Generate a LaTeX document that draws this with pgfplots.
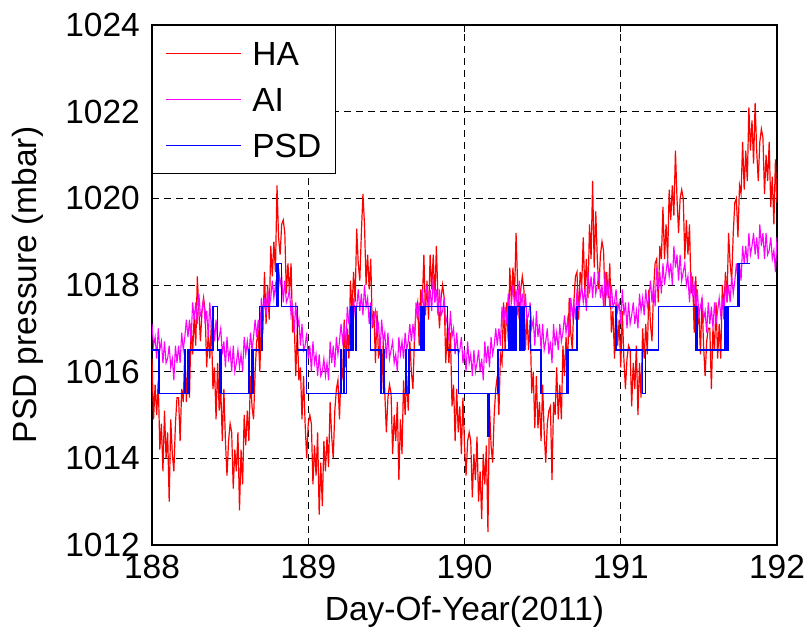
\documentclass[border=0pt]{standalone}
\usepackage{fontspec}
\setmainfont{Liberation Sans}
\usepackage{pgfplots}
\usepackage{pgfplotstable}
\pgfplotsset{compat=1.18}
\definecolor{mred}{RGB}{255,0,0}
\definecolor{mmag}{RGB}{255,0,255}
\definecolor{mblue}{RGB}{0,0,255}
\begin{document}
\pgfplotstableread{
x ha ai
188.00 1016.3 1017.1
188.01 1014.9 1016.6
188.02 1015.7 1016.8
188.03 1015.0 1016.3
188.04 1015.8 1017.0
188.05 1014.2 1016.5
188.06 1014.8 1016.7
188.07 1013.7 1016.2
188.08 1015.1 1016.7
188.09 1014.0 1016.2
188.10 1014.6 1016.3
188.11 1013.0 1016.6
188.12 1014.9 1016.1
188.13 1014.1 1016.3
188.14 1013.7 1015.8
188.15 1014.8 1016.6
188.16 1015.4 1016.2
188.17 1015.4 1016.6
188.18 1014.4 1016.2
188.19 1015.6 1016.9
188.20 1015.3 1016.5
188.21 1016.5 1016.8
188.22 1015.3 1017.2
188.23 1016.2 1016.8
188.24 1015.4 1017.2
188.25 1017.1 1016.7
188.26 1016.4 1017.6
188.27 1017.3 1017.2
188.28 1016.6 1017.6
188.29 1018.2 1017.1
188.30 1017.4 1017.8
188.31 1016.7 1017.3
188.32 1017.4 1017.4
188.33 1017.7 1017.7
188.34 1017.4 1017.1
188.35 1016.1 1017.4
188.36 1016.9 1016.8
188.37 1016.3 1017.6
188.38 1017.1 1017.0
188.39 1015.6 1017.3
188.40 1016.1 1016.7
188.41 1014.9 1017.2
188.42 1016.2 1016.7
188.43 1015.1 1016.8
188.44 1015.6 1017.0
188.45 1014.4 1016.4
188.46 1015.6 1016.7
188.47 1014.4 1016.1
188.48 1013.6 1016.8
188.49 1014.4 1016.3
188.50 1014.8 1016.5
188.51 1014.6 1016.0
188.52 1013.3 1016.6
188.53 1014.2 1016.0
188.54 1013.7 1016.2
188.55 1014.6 1016.5
188.56 1012.8 1016.1
188.57 1014.2 1016.4
188.58 1013.4 1016.0
188.59 1015.0 1016.8
188.60 1014.3 1016.4
188.61 1015.1 1016.7
188.62 1014.4 1016.3
188.63 1015.9 1016.9
188.64 1015.2 1016.5
188.65 1014.9 1016.8
188.66 1016.0 1017.2
188.67 1016.7 1016.8
188.68 1016.9 1017.2
188.69 1016.0 1016.8
188.70 1017.2 1017.7
188.71 1017.0 1017.3
188.72 1018.3 1017.7
188.73 1017.1 1017.3
188.74 1018.0 1017.9
188.75 1017.2 1017.5
188.76 1018.9 1017.7
188.77 1018.2 1018.1
188.78 1019.0 1017.7
188.79 1018.3 1018.0
188.80 1020.3 1017.6
188.81 1019.1 1018.4
188.82 1018.7 1018.0
188.83 1019.4 1018.2
188.84 1019.5 1017.6
188.85 1019.2 1018.1
188.86 1017.8 1017.6
188.87 1018.5 1017.7
188.88 1017.8 1017.9
188.89 1018.5 1017.3
188.90 1016.9 1017.5
188.91 1017.2 1016.9
188.92 1015.9 1017.6
188.93 1017.0 1017.0
188.94 1015.8 1017.2
188.95 1016.1 1016.6
188.96 1014.9 1017.1
188.97 1015.9 1016.5
188.98 1014.8 1016.6
188.99 1014.0 1016.9
189.00 1014.8 1016.3
189.01 1015.0 1016.6
189.02 1014.8 1016.0
189.03 1013.4 1016.7
189.04 1014.3 1016.2
189.05 1013.6 1016.4
189.06 1014.6 1015.9
189.07 1012.7 1016.4
189.08 1013.9 1015.9
189.09 1012.9 1016.0
189.10 1014.4 1016.3
189.11 1013.7 1015.9
189.12 1014.5 1016.2
189.13 1013.8 1015.8
189.14 1015.3 1016.7
189.15 1014.5 1016.2
189.16 1014.0 1016.6
189.17 1015.1 1016.1
189.18 1015.6 1016.8
189.19 1015.8 1016.4
189.20 1014.9 1016.7
189.21 1016.1 1017.1
189.22 1015.9 1016.7
189.23 1017.2 1017.0
189.24 1016.1 1016.6
189.25 1017.0 1017.5
189.26 1016.3 1017.1
189.27 1018.1 1017.5
189.28 1017.4 1017.1
189.29 1018.3 1017.7
189.30 1017.6 1017.3
189.31 1019.3 1017.5
189.32 1018.5 1017.9
189.33 1018.1 1017.4
189.34 1019.2 1017.8
189.35 1020.1 1017.3
189.36 1019.4 1018.0
189.37 1018.0 1017.5
189.38 1018.7 1017.7
189.39 1017.9 1017.1
189.40 1018.6 1017.6
189.41 1017.0 1017.1
189.42 1017.4 1017.2
189.43 1016.2 1017.4
189.44 1017.4 1016.9
189.45 1016.3 1017.1
189.46 1016.7 1016.5
189.47 1015.6 1017.2
189.48 1016.7 1016.7
189.49 1015.5 1016.9
189.50 1014.6 1016.3
189.51 1015.4 1016.9
189.52 1015.7 1016.3
189.53 1015.5 1016.5
189.54 1014.1 1016.7
189.55 1015.0 1016.2
189.56 1014.4 1016.4
189.57 1015.3 1016.0
189.58 1013.5 1016.8
189.59 1014.9 1016.4
189.60 1014.1 1016.7
189.61 1015.8 1016.3
189.62 1015.0 1016.9
189.63 1015.9 1016.5
189.64 1015.1 1016.7
189.65 1016.7 1017.1
189.66 1016.0 1016.7
189.67 1015.6 1017.1
189.68 1016.8 1016.7
189.69 1017.4 1017.6
189.70 1017.6 1017.2
189.71 1016.6 1017.6
189.72 1017.9 1017.2
189.73 1017.6 1017.9
189.74 1018.7 1017.4
189.75 1017.3 1017.7
189.76 1018.1 1018.0
189.77 1017.2 1017.5
189.78 1018.7 1017.9
189.79 1017.9 1017.4
189.80 1018.7 1018.2
189.81 1017.6 1017.6
189.82 1018.9 1017.9
189.83 1017.7 1017.3
189.84 1017.0 1017.9
189.85 1017.7 1017.3
189.86 1018.0 1017.4
189.87 1017.7 1017.7
189.88 1016.2 1017.1
189.89 1017.0 1017.3
189.90 1016.2 1016.7
189.91 1016.9 1017.4
189.92 1015.2 1016.8
189.93 1015.7 1017.0
189.94 1014.4 1016.4
189.95 1015.6 1016.9
189.96 1014.6 1016.4
189.97 1015.2 1016.5
189.98 1014.1 1016.8
189.99 1015.4 1016.2
190.00 1014.3 1016.5
190.01 1013.6 1016.0
190.02 1014.4 1016.7
190.03 1014.6 1016.2
190.04 1014.4 1016.4
190.05 1013.1 1015.9
190.06 1014.1 1016.5
190.07 1013.5 1016.0
190.08 1014.5 1016.2
190.09 1013.0 1016.5
190.10 1013.7 1016.0
190.11 1012.6 1016.3
190.12 1014.1 1015.8
190.13 1013.4 1016.7
190.14 1014.3 1016.2
190.15 1012.3 1016.6
190.16 1015.2 1016.1
190.17 1014.3 1016.8
190.18 1013.9 1016.4
190.19 1015.0 1016.6
190.20 1015.6 1017.0
190.21 1015.9 1016.6
190.22 1015.0 1017.0
190.23 1016.4 1016.6
190.24 1016.2 1017.5
190.25 1017.6 1017.1
190.26 1016.5 1017.5
190.27 1017.6 1017.1
190.28 1016.7 1017.8
190.29 1018.4 1017.3
190.30 1017.6 1017.6
190.31 1018.4 1018.0
190.32 1017.7 1017.5
190.33 1019.2 1017.9
190.34 1018.0 1017.3
190.35 1017.2 1018.1
190.36 1017.9 1017.5
190.37 1018.2 1017.8
190.38 1017.9 1017.2
190.39 1016.5 1017.8
190.40 1017.3 1017.2
190.41 1016.5 1017.3
190.42 1017.2 1017.6
190.43 1015.5 1017.0
190.44 1016.0 1017.2
190.45 1014.7 1016.6
190.46 1015.9 1017.4
190.47 1014.7 1016.8
190.48 1015.3 1017.1
190.49 1014.4 1016.5
190.50 1015.7 1017.1
190.51 1014.6 1016.5
190.52 1013.9 1016.7
190.53 1014.8 1017.0
190.54 1015.1 1016.4
190.55 1015.2 1016.7
190.56 1013.5 1016.2
190.57 1015.3 1017.1
190.58 1015.0 1016.6
190.59 1016.1 1016.9
190.60 1014.9 1016.5
190.61 1015.7 1017.1
190.62 1014.9 1016.7
190.63 1016.6 1016.9
190.64 1015.9 1017.3
190.65 1016.8 1016.9
190.66 1016.1 1017.2
190.67 1017.7 1016.8
190.68 1016.9 1017.7
190.69 1016.5 1017.3
190.70 1017.6 1017.6
190.71 1018.2 1017.2
190.72 1018.3 1017.9
190.73 1017.2 1017.4
190.74 1018.3 1017.7
190.75 1018.0 1018.0
190.76 1019.1 1017.6
190.77 1017.8 1017.9
190.78 1018.6 1017.4
190.79 1017.7 1018.3
190.80 1019.4 1017.8
190.81 1018.6 1018.2
190.82 1020.4 1017.7
190.83 1018.4 1018.3
190.84 1019.7 1017.8
190.85 1018.6 1018.0
190.86 1017.9 1018.3
190.87 1018.7 1017.7
190.88 1019.0 1018.0
190.89 1018.8 1017.5
190.90 1017.5 1018.3
190.91 1018.3 1017.8
190.92 1017.7 1018.0
190.93 1018.5 1017.5
190.94 1016.9 1018.0
190.95 1017.4 1017.5
190.96 1016.3 1017.6
190.97 1017.6 1017.9
190.98 1016.6 1017.4
190.99 1017.2 1017.6
191.00 1016.1 1017.1
191.01 1017.4 1017.9
191.02 1016.3 1017.3
191.03 1015.6 1017.6
191.04 1016.3 1017.0
191.05 1016.6 1017.6
191.06 1016.5 1017.1
191.07 1015.2 1017.3
191.08 1016.2 1017.6
191.09 1015.6 1017.1
191.10 1016.6 1017.4
191.11 1015.0 1017.0
191.12 1016.2 1017.8
191.13 1015.4 1017.4
191.14 1017.0 1017.7
191.15 1016.3 1017.3
191.16 1017.1 1017.9
191.17 1016.4 1017.5
191.18 1017.9 1017.7
191.19 1017.1 1018.1
191.20 1016.7 1017.6
191.21 1017.9 1018.0
191.22 1018.5 1017.5
191.23 1018.6 1018.4
191.24 1017.6 1017.9
191.25 1018.9 1018.3
191.26 1018.6 1017.8
191.27 1019.8 1018.5
191.28 1018.6 1018.0
191.29 1019.4 1018.3
191.30 1018.6 1018.6
191.31 1020.2 1018.2
191.32 1019.5 1018.5
191.33 1020.3 1018.0
191.34 1019.6 1018.9
191.35 1021.1 1018.4
191.36 1020.0 1018.7
191.37 1019.2 1018.1
191.38 1020.0 1018.7
191.39 1020.2 1018.1
191.40 1020.0 1018.3
191.41 1018.6 1018.5
191.42 1019.5 1018.0
191.43 1018.7 1018.2
191.44 1019.4 1017.6
191.45 1017.8 1018.3
191.46 1018.2 1017.8
191.47 1016.9 1018.0
191.48 1018.2 1017.4
191.49 1017.0 1017.9
191.50 1017.4 1017.3
191.51 1016.4 1017.5
191.52 1017.7 1017.7
191.53 1016.6 1017.2
191.54 1015.9 1017.4
191.55 1016.7 1016.9
191.56 1017.0 1017.6
191.57 1017.0 1017.1
191.58 1015.6 1017.5
191.59 1017.0 1017.0
191.60 1016.5 1017.6
191.61 1017.6 1017.1
191.62 1016.3 1017.4
191.63 1017.1 1017.7
191.64 1016.3 1017.3
191.65 1018.0 1017.6
191.66 1017.4 1017.2
191.67 1018.3 1018.1
191.68 1017.6 1017.6
191.69 1019.2 1018.0
191.70 1018.5 1017.6
191.71 1018.1 1018.2
191.72 1019.2 1017.8
191.73 1019.9 1018.1
191.74 1020.0 1018.5
191.75 1019.1 1018.1
191.76 1020.3 1018.5
191.77 1020.1 1018.1
191.78 1021.3 1018.9
191.79 1020.2 1018.5
191.80 1021.1 1018.9
191.81 1020.4 1018.5
191.82 1022.1 1019.2
191.83 1021.1 1018.7
191.84 1021.8 1018.9
191.85 1020.8 1019.2
191.86 1022.2 1018.7
191.87 1021.1 1019.1
191.88 1020.4 1018.6
191.89 1021.3 1019.4
191.90 1021.6 1018.9
191.91 1021.4 1019.2
191.92 1020.1 1018.6
191.93 1021.0 1019.2
191.94 1020.4 1018.7
191.95 1021.3 1018.8
191.96 1019.8 1019.1
191.97 1020.5 1018.6
191.98 1019.4 1018.8
191.99 1020.9 1018.3
192.00 1019.9 1019.1
}\tabledata
\pgfplotstableread{
x psd
188.000 1016.5
188.040 1015.5
188.045 1016.5
188.050 1015.5
188.210 1016.5
188.215 1015.5
188.225 1016.5
188.230 1015.5
188.240 1016.5
188.390 1017.5
188.420 1016.5
188.435 1015.5
188.440 1016.5
188.445 1015.5
188.620 1016.5
188.625 1015.5
188.635 1016.5
188.640 1015.5
188.650 1016.5
188.690 1017.5
188.700 1016.5
188.705 1017.5
188.800 1018.5
188.805 1017.5
188.810 1018.5
188.830 1017.5
188.930 1016.5
188.990 1015.5
189.210 1016.5
189.215 1015.5
189.225 1016.5
189.230 1015.5
189.245 1016.5
189.270 1017.5
189.275 1016.5
189.280 1017.5
189.285 1016.5
189.290 1017.5
189.300 1016.5
189.305 1017.5
189.400 1016.5
189.460 1015.5
189.465 1016.5
189.470 1015.5
189.480 1016.5
189.485 1015.5
189.620 1016.5
189.625 1015.5
189.640 1016.5
189.645 1015.5
189.650 1016.5
189.720 1017.5
189.725 1016.5
189.735 1017.5
189.740 1016.5
189.745 1017.5
189.890 1016.5
189.960 1015.5
190.150 1014.5
190.160 1015.5
190.210 1016.5
190.215 1015.5
190.220 1016.5
190.280 1017.5
190.290 1016.5
190.295 1017.5
190.300 1016.5
190.310 1017.5
190.315 1016.5
190.320 1017.5
190.330 1016.5
190.335 1017.5
190.350 1016.5
190.355 1017.5
190.365 1016.5
190.370 1017.5
190.380 1016.5
190.385 1017.5
190.420 1016.5
190.490 1015.5
190.655 1016.5
190.660 1015.5
190.665 1016.5
190.720 1017.5
190.970 1016.5
191.140 1015.5
191.160 1016.5
191.240 1017.5
191.480 1016.5
191.485 1017.5
191.490 1016.5
191.665 1017.5
191.670 1016.5
191.680 1017.5
191.685 1016.5
191.690 1017.5
191.750 1018.5
191.755 1017.5
191.760 1018.5
191.830 1018.5
}\psddata
\begin{tikzpicture}
\path[use as bounding box] (-152bp,-88bp) rectangle (659bp,545bp);
\begin{axis}[
  scale only axis,
  width=625bp, height=520bp,
  xmin=188, xmax=192, ymin=1012, ymax=1024,
  xtick={188,189,190,191,192},
  ytick={1012,1014,1016,1018,1020,1022,1024},
  /pgf/number format/assume math mode=true,
  /pgf/number format/1000 sep={},
  font=\fontsize{33.5bp}{40bp}\selectfont,
  tick align=inside,
  major tick length=7bp,
  major tick style={black, line width=0.8bp},
  axis line style={black, line width=1.2bp},
  grid=major,
  major grid style={black, line width=0.7bp, dash pattern=on 7bp off 5bp},
  xticklabel style={anchor=north, inner sep=0pt, yshift=-10bp},
  yticklabel style={anchor=east, inner sep=0pt, xshift=-12bp},
  xlabel={Day-Of-Year(2011)},
  ylabel={PSD pressure (mbar)},
  xlabel style={at={(axis description cs:0.5,0)}, anchor=north, inner sep=0pt, yshift=-51bp},
  ylabel style={at={(axis description cs:0,0.5)}, anchor=center, inner sep=0pt, yshift=124bp},
  legend style={at={(0,1)}, anchor=north west, fill=white, line width=0.8bp,
    inner xsep=14bp, inner ysep=16bp, row sep=22bp, column sep=11bp,
    nodes={inner sep=0pt, text height=24bp, text depth=0pt},
    font=\fontsize{33.5bp}{40bp}\selectfont},
  legend cell align=left,
]
\addplot[color=mred, line width=1.2bp,
  legend image code/.code={\pgftext[left]{\textcolor{mred}{\rule{75bp}{1.6bp}}}}]
  table[x=x, y=ha] {\tabledata};
\addlegendentry{HA}
\addplot[color=mmag, line width=1.1bp,
  legend image code/.code={\pgftext[left]{\textcolor{mmag}{\rule{75bp}{1.6bp}}}}]
  table[x=x, y=ai] {\tabledata};
\addlegendentry{AI}
\addplot[color=mblue, line width=1.2bp, const plot,
  legend image code/.code={\pgftext[left]{\textcolor{mblue}{\rule{75bp}{1.6bp}}}}]
  table[x=x, y=psd] {\psddata};
\addlegendentry{PSD}
\end{axis}
\end{tikzpicture}
\end{document}
